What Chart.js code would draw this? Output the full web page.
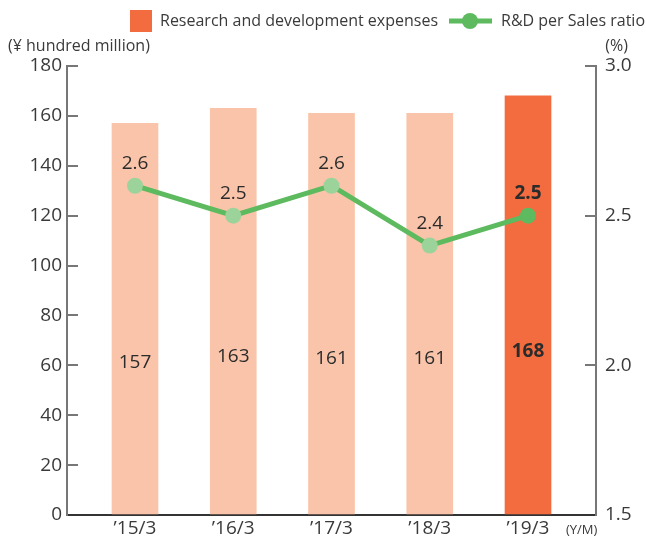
<!DOCTYPE html>
<html>
<head>
<meta charset="utf-8">
<script src="https://cdn.jsdelivr.net/npm/chart.js@4"></script>
<style>
  html, body { margin: 0; padding: 0; background: #fff; }
  #wrap { width: 646px; height: 539px; }
</style>
</head>
<body>
<div id="wrap"><canvas id="c"></canvas></div>
<script>
// R&D expenses (bars, left axis) + R&D per sales ratio (line, right axis)
var categories = ["\u201915/3", "\u201916/3", "\u201917/3", "\u201918/3", "\u201919/3"];
var rdExpenses = [157, 163, 161, 161, 168];
var rdRatio = [2.6, 2.5, 2.6, 2.4, 2.5];
var leftRange = [0, 180, 20];
var rightRange = [1.5, 3.0, 0.5];

var FONT = "'Open Sans', 'Noto Sans', sans-serif";
var TXT = "#3a3a3a";
var ORANGE = "#f26c40", PEACH = "#f9c4a9";
var GREEN = "#5dba5f", LIGHTGREEN = "#9cd39a";

var barColors = rdExpenses.map(function (v, i) { return i === rdExpenses.length - 1 ? ORANGE : PEACH; });
var pointColors = rdRatio.map(function (v, i) { return i === rdRatio.length - 1 ? GREEN : LIGHTGREEN; });

// text drawn on top: value labels, legend, unit captions
var extras = {
  id: "extras",
  afterDatasetsDraw: function (chart) {
    var ctx = chart.ctx, x = chart.scales.x, y = chart.scales.y, y2 = chart.scales.y2;
    var last = categories.length - 1;
    ctx.save();
    ctx.textAlign = "center";
    ctx.textBaseline = "middle";
    ctx.fillStyle = "#2b2b2b";
    rdExpenses.forEach(function (v, i) {
      ctx.font = (i === last ? "bold " : "") + "19px " + FONT;
      ctx.fillText(String(v), x.getPixelForValue(i), y.getPixelForValue(v * 0.39));
    });
    rdRatio.forEach(function (v, i) {
      ctx.font = (i === last ? "bold " : "") + "19px " + FONT;
      ctx.fillText(v.toFixed(1), x.getPixelForValue(i), y2.getPixelForValue(v) - 22);
    });
    ctx.restore();
  },
  afterDraw: function (chart) {
    var ctx = chart.ctx;
    ctx.save();
    ctx.textBaseline = "middle";
    // legend
    ctx.fillStyle = ORANGE;
    ctx.fillRect(130, 10, 22, 22);
    ctx.fillStyle = TXT;
    ctx.font = "16px " + FONT;
    ctx.textAlign = "left";
    ctx.fillText(chart.data.datasets[0].label, 160, 21);
    ctx.strokeStyle = GREEN;
    ctx.lineWidth = 5;
    ctx.beginPath();
    ctx.moveTo(449, 21);
    ctx.lineTo(492, 21);
    ctx.stroke();
    ctx.fillStyle = GREEN;
    ctx.beginPath();
    ctx.arc(470, 21, 8, 0, Math.PI * 2);
    ctx.fill();
    ctx.fillStyle = TXT;
    ctx.fillText(chart.data.datasets[1].label, 501, 21);
    // unit captions
    ctx.fillText("(\u00a5 hundred million)", 8, 46);
    ctx.textAlign = "right";
    ctx.fillText("(%)", 628, 46);
    ctx.font = "13px " + FONT;
    ctx.textAlign = "left";
    ctx.fillText("(Y/M)", 566, 530);
    ctx.restore();
  }
};

var tickFont = { family: FONT, size: 19 };

function fixY(w) {
  return function (s) { s.width = w; s.paddingTop = 0; s.paddingBottom = 0; };
}

new Chart(document.getElementById("c"), {
  data: {
    datasets: [
      {
        type: "bar",
        label: "Research and development expenses",
        data: rdExpenses.map(function (v, i) { return { x: i, y: v }; }),
        backgroundColor: barColors,
        barThickness: 46,
        yAxisID: "y",
        order: 1
      },
      {
        type: "line",
        label: "R&D per Sales ratio",
        data: rdRatio.map(function (v, i) { return { x: i, y: v }; }),
        borderColor: GREEN,
        borderWidth: 5,
        pointBackgroundColor: pointColors,
        pointBorderWidth: 0,
        pointRadius: 8,
        yAxisID: "y2",
        order: 0
      }
    ]
  },
  options: {
    responsive: true,
    maintainAspectRatio: false,
    animation: false,
    layout: { padding: { top: 66, left: 0, right: 0, bottom: 0 } },
    plugins: { legend: { display: false }, tooltip: { enabled: false } },
    scales: {
      x: {
        type: "linear",
        offset: false,
        min: -0.692, max: 4.692,
        grid: { display: false, offset: false },
        border: { color: "#333", width: 2 },
        ticks: {
          stepSize: 1, includeBounds: false, autoSkip: false, maxRotation: 0,
          padding: -6, color: TXT, font: tickFont,
          callback: function (v) { return Number.isInteger(v) ? categories[v] : ""; }
        },
        afterFit: function (s) { s.height = 24; s.paddingLeft = 0; s.paddingRight = 0; }
      },
      y: {
        position: "left",
        min: leftRange[0], max: leftRange[1],
        grid: { drawOnChartArea: false, tickLength: -11, color: "#777", lineWidth: 2 },
        border: { color: "#777", width: 2 },
        ticks: { stepSize: leftRange[2], padding: 16, color: TXT, font: tickFont },
        afterFit: fixY(67)
      },
      y2: {
        position: "right",
        min: rightRange[0], max: rightRange[1],
        grid: { drawOnChartArea: false, tickLength: -11, color: "#777", lineWidth: 2 },
        border: { color: "#777", width: 2 },
        ticks: {
          stepSize: rightRange[2], padding: 20, color: TXT, font: tickFont,
          callback: function (v) { return v.toFixed(1); }
        },
        afterFit: fixY(50)
      }
    }
  },
  plugins: [extras]
});
</script>
</body>
</html>
